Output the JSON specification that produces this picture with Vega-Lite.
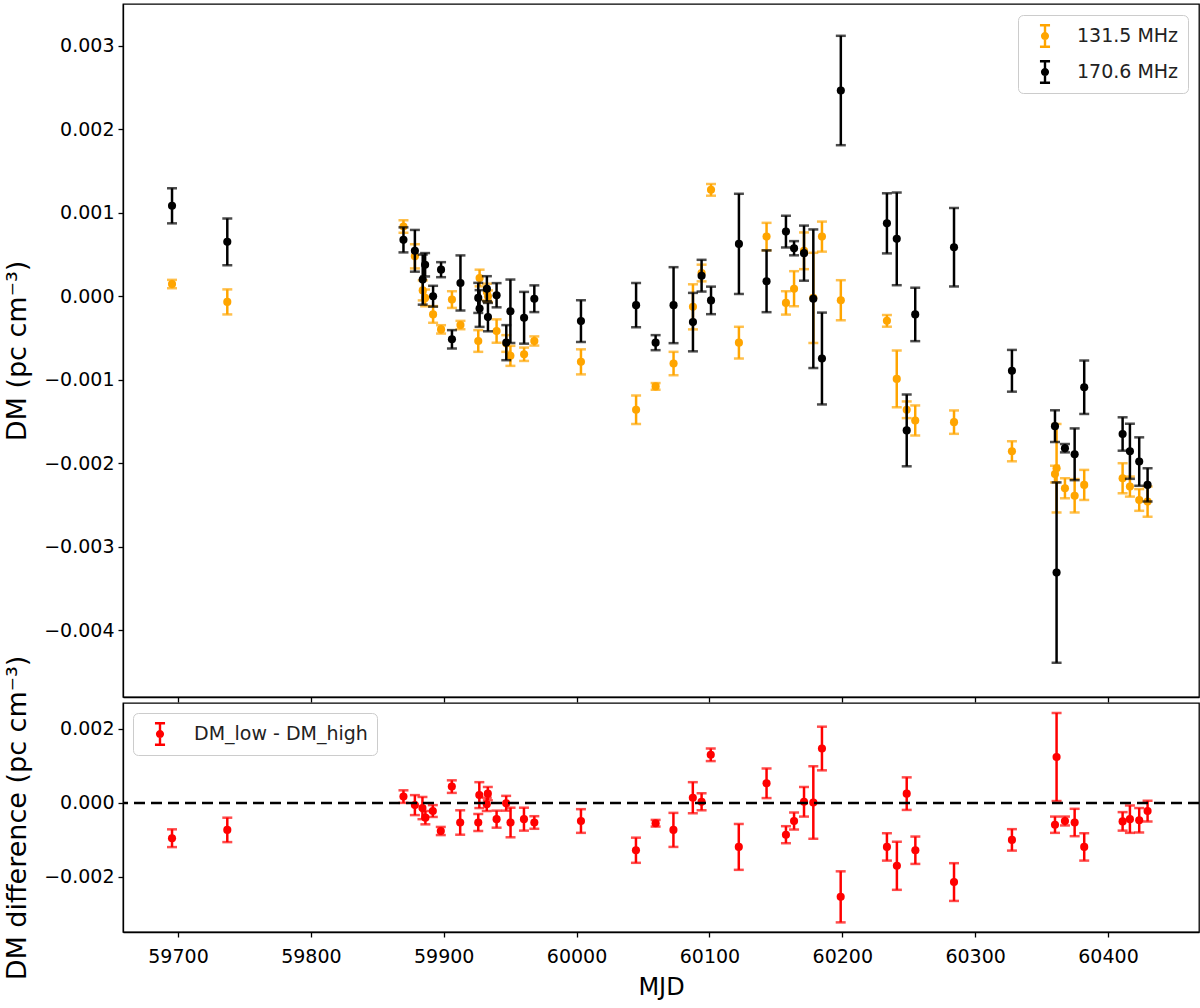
{
"$schema": "https://vega.github.io/schema/vega-lite/v6.json",
"background": "white",
"padding": {"left": 3, "top": 3, "right": 1, "bottom": 2},
"spacing": 6,
"bounds": "flush",
"config": {
  "font": "DejaVu Sans",
  "view": {"stroke": "black", "strokeWidth": 1.3},
  "axis": {"domainColor": "black", "domainWidth": 1.3, "tickColor": "black", "tickWidth": 1.3, "tickSize": 5, "labelColor": "black", "titleColor": "black", "labelFont": "DejaVu Sans", "titleFont": "DejaVu Sans", "labelFontSize": 19, "titleFontSize": 27, "titleFontWeight": "normal", "grid": false, "labelPadding": 4, "titlePadding": 12}
},
"resolve": {"scale": {"color": "independent"}, "legend": {"color": "independent"}},
"datasets": {
  "bands": [
    {"mjd": 59695.5, "band": "131.5 MHz", "dm": 0.000146, "err": 0.00005},
    {"mjd": 59737.1, "band": "131.5 MHz", "dm": -0.000068, "err": 0.00015},
    {"mjd": 59869.7, "band": "131.5 MHz", "dm": 0.000835, "err": 0.000075},
    {"mjd": 59878.3, "band": "131.5 MHz", "dm": 0.000478, "err": 0.000145},
    {"mjd": 59884.2, "band": "131.5 MHz", "dm": 0.00007, "err": 0.00012},
    {"mjd": 59886.0, "band": "131.5 MHz", "dm": -0.00002, "err": 0.0001},
    {"mjd": 59892.0, "band": "131.5 MHz", "dm": -0.000218, "err": 0.0001},
    {"mjd": 59898.0, "band": "131.5 MHz", "dm": -0.000397, "err": 0.00005},
    {"mjd": 59906.2, "band": "131.5 MHz", "dm": -0.00004, "err": 0.0001},
    {"mjd": 59912.6, "band": "131.5 MHz", "dm": -0.000345, "err": 0.00005},
    {"mjd": 59926.0, "band": "131.5 MHz", "dm": -0.000536, "err": 0.00013},
    {"mjd": 59927.0, "band": "131.5 MHz", "dm": 0.000218, "err": 0.0001},
    {"mjd": 59932.5, "band": "131.5 MHz", "dm": 0.00005, "err": 0.0001},
    {"mjd": 59933.3, "band": "131.5 MHz", "dm": 0.0, "err": 0.00007},
    {"mjd": 59939.8, "band": "131.5 MHz", "dm": -0.000417, "err": 0.00014},
    {"mjd": 59947.1, "band": "131.5 MHz", "dm": -0.000566, "err": 0.0001},
    {"mjd": 59950.2, "band": "131.5 MHz", "dm": -0.000714, "err": 0.00012},
    {"mjd": 59960.5, "band": "131.5 MHz", "dm": -0.000695, "err": 0.00008},
    {"mjd": 59968.2, "band": "131.5 MHz", "dm": -0.000536, "err": 0.000055},
    {"mjd": 60003.3, "band": "131.5 MHz", "dm": -0.000786, "err": 0.00015},
    {"mjd": 60044.8, "band": "131.5 MHz", "dm": -0.00136, "err": 0.00017},
    {"mjd": 60059.5, "band": "131.5 MHz", "dm": -0.00108, "err": 0.00004},
    {"mjd": 60073.0, "band": "131.5 MHz", "dm": -0.000806, "err": 0.00014},
    {"mjd": 60087.6, "band": "131.5 MHz", "dm": -0.000127, "err": 0.00027},
    {"mjd": 60094.1, "band": "131.5 MHz", "dm": 0.000278, "err": 0.0001},
    {"mjd": 60101.2, "band": "131.5 MHz", "dm": 0.001274, "err": 0.00007},
    {"mjd": 60122.2, "band": "131.5 MHz", "dm": -0.000556, "err": 0.00019},
    {"mjd": 60143.0, "band": "131.5 MHz", "dm": 0.000714, "err": 0.000165},
    {"mjd": 60157.6, "band": "131.5 MHz", "dm": -0.00008, "err": 0.00014},
    {"mjd": 60163.7, "band": "131.5 MHz", "dm": 0.00009, "err": 0.00021},
    {"mjd": 60171.2, "band": "131.5 MHz", "dm": 0.000544, "err": 0.00022},
    {"mjd": 60178.2, "band": "131.5 MHz", "dm": -0.00002, "err": 0.00054},
    {"mjd": 60184.7, "band": "131.5 MHz", "dm": 0.000714, "err": 0.00018},
    {"mjd": 60198.9, "band": "131.5 MHz", "dm": -0.000048, "err": 0.00024},
    {"mjd": 60233.6, "band": "131.5 MHz", "dm": -0.000295, "err": 0.00007},
    {"mjd": 60241.0, "band": "131.5 MHz", "dm": -0.00099, "err": 0.00034},
    {"mjd": 60248.5, "band": "131.5 MHz", "dm": -0.00136, "err": 0.0001},
    {"mjd": 60254.9, "band": "131.5 MHz", "dm": -0.001488, "err": 0.00018},
    {"mjd": 60284.1, "band": "131.5 MHz", "dm": -0.001508, "err": 0.00014},
    {"mjd": 60327.7, "band": "131.5 MHz", "dm": -0.001857, "err": 0.00012},
    {"mjd": 60360.1, "band": "131.5 MHz", "dm": -0.00213, "err": 0.0001},
    {"mjd": 60361.3, "band": "131.5 MHz", "dm": -0.00206, "err": 0.00053},
    {"mjd": 60367.6, "band": "131.5 MHz", "dm": -0.0023, "err": 0.00012},
    {"mjd": 60374.9, "band": "131.5 MHz", "dm": -0.00239, "err": 0.0002},
    {"mjd": 60382.1, "band": "131.5 MHz", "dm": -0.00226, "err": 0.00018},
    {"mjd": 60411.0, "band": "131.5 MHz", "dm": -0.00218, "err": 0.00018},
    {"mjd": 60416.5, "band": "131.5 MHz", "dm": -0.00228, "err": 0.00012},
    {"mjd": 60423.5, "band": "131.5 MHz", "dm": -0.00244, "err": 0.00013},
    {"mjd": 60429.8, "band": "131.5 MHz", "dm": -0.00246, "err": 0.00018},
    {"mjd": 59695.5, "band": "170.6 MHz", "dm": 0.001083, "err": 0.00021},
    {"mjd": 59737.1, "band": "170.6 MHz", "dm": 0.000651, "err": 0.00028},
    {"mjd": 59869.7, "band": "170.6 MHz", "dm": 0.000675, "err": 0.00015},
    {"mjd": 59878.3, "band": "170.6 MHz", "dm": 0.000544, "err": 0.00025},
    {"mjd": 59884.2, "band": "170.6 MHz", "dm": 0.000199, "err": 0.0003},
    {"mjd": 59886.0, "band": "170.6 MHz", "dm": 0.000377, "err": 0.00014},
    {"mjd": 59892.0, "band": "170.6 MHz", "dm": 0.0, "err": 0.000125},
    {"mjd": 59898.0, "band": "170.6 MHz", "dm": 0.000318, "err": 0.00009},
    {"mjd": 59906.2, "band": "170.6 MHz", "dm": -0.000516, "err": 0.00011},
    {"mjd": 59912.6, "band": "170.6 MHz", "dm": 0.000159, "err": 0.00033},
    {"mjd": 59926.0, "band": "170.6 MHz", "dm": -0.00002, "err": 0.00018},
    {"mjd": 59927.0, "band": "170.6 MHz", "dm": -0.000147, "err": 0.00022},
    {"mjd": 59932.5, "band": "170.6 MHz", "dm": 0.00009, "err": 0.00015},
    {"mjd": 59933.3, "band": "170.6 MHz", "dm": -0.00025, "err": 0.00017},
    {"mjd": 59939.8, "band": "170.6 MHz", "dm": 0.000012, "err": 0.000145},
    {"mjd": 59947.1, "band": "170.6 MHz", "dm": -0.000556, "err": 0.00021},
    {"mjd": 59950.2, "band": "170.6 MHz", "dm": -0.00018, "err": 0.00038},
    {"mjd": 59960.5, "band": "170.6 MHz", "dm": -0.000258, "err": 0.00031},
    {"mjd": 59968.2, "band": "170.6 MHz", "dm": -0.00003, "err": 0.00016},
    {"mjd": 60003.3, "band": "170.6 MHz", "dm": -0.000298, "err": 0.00025},
    {"mjd": 60044.8, "band": "170.6 MHz", "dm": -0.000107, "err": 0.000265},
    {"mjd": 60059.5, "band": "170.6 MHz", "dm": -0.000556, "err": 0.00009},
    {"mjd": 60073.0, "band": "170.6 MHz", "dm": -0.000107, "err": 0.000455},
    {"mjd": 60087.6, "band": "170.6 MHz", "dm": -0.00031, "err": 0.00035},
    {"mjd": 60094.1, "band": "170.6 MHz", "dm": 0.000246, "err": 0.00019},
    {"mjd": 60101.2, "band": "170.6 MHz", "dm": -0.00005, "err": 0.000165},
    {"mjd": 60122.2, "band": "170.6 MHz", "dm": 0.000627, "err": 0.0006},
    {"mjd": 60143.0, "band": "170.6 MHz", "dm": 0.000179, "err": 0.00037},
    {"mjd": 60157.6, "band": "170.6 MHz", "dm": 0.000774, "err": 0.00019},
    {"mjd": 60163.7, "band": "170.6 MHz", "dm": 0.000575, "err": 0.000085},
    {"mjd": 60171.2, "band": "170.6 MHz", "dm": 0.000516, "err": 0.00033},
    {"mjd": 60178.2, "band": "170.6 MHz", "dm": -0.00003, "err": 0.00083},
    {"mjd": 60184.7, "band": "170.6 MHz", "dm": -0.000746, "err": 0.00055},
    {"mjd": 60198.9, "band": "170.6 MHz", "dm": 0.002464, "err": 0.000655},
    {"mjd": 60233.6, "band": "170.6 MHz", "dm": 0.000873, "err": 0.00036},
    {"mjd": 60241.0, "band": "170.6 MHz", "dm": 0.000687, "err": 0.000555},
    {"mjd": 60248.5, "band": "170.6 MHz", "dm": -0.001607, "err": 0.00043},
    {"mjd": 60254.9, "band": "170.6 MHz", "dm": -0.000218, "err": 0.00032},
    {"mjd": 60284.1, "band": "170.6 MHz", "dm": 0.000587, "err": 0.00047},
    {"mjd": 60327.7, "band": "170.6 MHz", "dm": -0.000893, "err": 0.00025},
    {"mjd": 60360.1, "band": "170.6 MHz", "dm": -0.001556, "err": 0.00019},
    {"mjd": 60361.3, "band": "170.6 MHz", "dm": -0.00331, "err": 0.00108},
    {"mjd": 60367.6, "band": "170.6 MHz", "dm": -0.00182, "err": 0.00005},
    {"mjd": 60374.9, "band": "170.6 MHz", "dm": -0.001893, "err": 0.00031},
    {"mjd": 60382.1, "band": "170.6 MHz", "dm": -0.00109, "err": 0.00032},
    {"mjd": 60411.0, "band": "170.6 MHz", "dm": -0.00165, "err": 0.0002},
    {"mjd": 60416.5, "band": "170.6 MHz", "dm": -0.001857, "err": 0.00033},
    {"mjd": 60423.5, "band": "170.6 MHz", "dm": -0.00198, "err": 0.00029},
    {"mjd": 60429.8, "band": "170.6 MHz", "dm": -0.00226, "err": 0.0002}
  ],
  "diff": [
    {"mjd": 59695.5, "series": "DM_low - DM_high", "d": -0.000955, "err": 0.00024},
    {"mjd": 59737.1, "series": "DM_low - DM_high", "d": -0.00073, "err": 0.00033},
    {"mjd": 59869.7, "series": "DM_low - DM_high", "d": 0.00017, "err": 0.00017},
    {"mjd": 59878.3, "series": "DM_low - DM_high", "d": -0.00006, "err": 0.00027},
    {"mjd": 59884.0, "series": "DM_low - DM_high", "d": -0.00014, "err": 0.0003},
    {"mjd": 59886.2, "series": "DM_low - DM_high", "d": -0.0004, "err": 0.00018},
    {"mjd": 59891.8, "series": "DM_low - DM_high", "d": -0.00022, "err": 0.00016},
    {"mjd": 59897.8, "series": "DM_low - DM_high", "d": -0.00076, "err": 0.00011},
    {"mjd": 59906.1, "series": "DM_low - DM_high", "d": 0.00044, "err": 0.00017},
    {"mjd": 59912.4, "series": "DM_low - DM_high", "d": -0.00053, "err": 0.00033},
    {"mjd": 59926.0, "series": "DM_low - DM_high", "d": -0.00053, "err": 0.00023},
    {"mjd": 59926.8, "series": "DM_low - DM_high", "d": 0.00021, "err": 0.00035},
    {"mjd": 59932.4, "series": "DM_low - DM_high", "d": -0.00004, "err": 0.00018},
    {"mjd": 59933.2, "series": "DM_low - DM_high", "d": 0.00025, "err": 0.00018},
    {"mjd": 59939.8, "series": "DM_low - DM_high", "d": -0.00044, "err": 0.00023},
    {"mjd": 59947.0, "series": "DM_low - DM_high", "d": -0.00001, "err": 0.0002},
    {"mjd": 59950.3, "series": "DM_low - DM_high", "d": -0.00053, "err": 0.0004},
    {"mjd": 59960.4, "series": "DM_low - DM_high", "d": -0.00044, "err": 0.00031},
    {"mjd": 59968.2, "series": "DM_low - DM_high", "d": -0.00053, "err": 0.00017},
    {"mjd": 60003.3, "series": "DM_low - DM_high", "d": -0.00049, "err": 0.00032},
    {"mjd": 60044.7, "series": "DM_low - DM_high", "d": -0.00128, "err": 0.00034},
    {"mjd": 60059.5, "series": "DM_low - DM_high", "d": -0.00055, "err": 0.00009},
    {"mjd": 60072.9, "series": "DM_low - DM_high", "d": -0.00073, "err": 0.00046},
    {"mjd": 60087.5, "series": "DM_low - DM_high", "d": 0.00014, "err": 0.00042},
    {"mjd": 60094.1, "series": "DM_low - DM_high", "d": 0.00003, "err": 0.00023},
    {"mjd": 60101.0, "series": "DM_low - DM_high", "d": 0.0013, "err": 0.00017},
    {"mjd": 60122.1, "series": "DM_low - DM_high", "d": -0.00119, "err": 0.00062},
    {"mjd": 60143.0, "series": "DM_low - DM_high", "d": 0.00053, "err": 0.0004},
    {"mjd": 60157.6, "series": "DM_low - DM_high", "d": -0.00086, "err": 0.00023},
    {"mjd": 60163.7, "series": "DM_low - DM_high", "d": -0.00049, "err": 0.00023},
    {"mjd": 60171.2, "series": "DM_low - DM_high", "d": 0.00003, "err": 0.0004},
    {"mjd": 60178.2, "series": "DM_low - DM_high", "d": 0.00001, "err": 0.00098},
    {"mjd": 60184.7, "series": "DM_low - DM_high", "d": 0.00147, "err": 0.00059},
    {"mjd": 60198.8, "series": "DM_low - DM_high", "d": -0.00254, "err": 0.00069},
    {"mjd": 60233.6, "series": "DM_low - DM_high", "d": -0.00119, "err": 0.00037},
    {"mjd": 60241.1, "series": "DM_low - DM_high", "d": -0.0017, "err": 0.00065},
    {"mjd": 60248.5, "series": "DM_low - DM_high", "d": 0.00025, "err": 0.00044},
    {"mjd": 60255.0, "series": "DM_low - DM_high", "d": -0.00128, "err": 0.00037},
    {"mjd": 60284.1, "series": "DM_low - DM_high", "d": -0.00214, "err": 0.00051},
    {"mjd": 60327.7, "series": "DM_low - DM_high", "d": -0.001, "err": 0.00029},
    {"mjd": 60360.1, "series": "DM_low - DM_high", "d": -0.00059, "err": 0.00022},
    {"mjd": 60361.3, "series": "DM_low - DM_high", "d": 0.00124, "err": 0.00119},
    {"mjd": 60367.6, "series": "DM_low - DM_high", "d": -0.00049, "err": 0.00012},
    {"mjd": 60374.9, "series": "DM_low - DM_high", "d": -0.00053, "err": 0.00037},
    {"mjd": 60382.1, "series": "DM_low - DM_high", "d": -0.00119, "err": 0.00037},
    {"mjd": 60411.0, "series": "DM_low - DM_high", "d": -0.0005, "err": 0.00025},
    {"mjd": 60416.5, "series": "DM_low - DM_high", "d": -0.00044, "err": 0.00037},
    {"mjd": 60423.5, "series": "DM_low - DM_high", "d": -0.00047, "err": 0.00033},
    {"mjd": 60429.8, "series": "DM_low - DM_high", "d": -0.00022, "err": 0.00028}
  ]
},
"vconcat": [
  {
    "width": 1076, "height": 693,
    "data": {"name": "bands"},
    "encoding": {
      "x": {"field": "mjd", "type": "quantitative", "scale": {"domain": [59658.6, 60468.5], "nice": false, "zero": false}, "axis": {"values": [59700, 59800, 59900, 60000, 60100, 60200, 60300, 60400], "labels": false, "title": null}},
      "y": {"field": "dm", "type": "quantitative", "scale": {"domain": [-0.0048, 0.0035], "nice": false, "zero": false}, "axis": {"values": [-0.004, -0.003, -0.002, -0.001, 0, 0.001, 0.002, 0.003], "format": ".3f", "title": "DM (pc cm⁻³)"}}
    },
    "layer": [
      {
        "transform": [{"filter": {"field": "band", "equal": "131.5 MHz"}}],
        "mark": {"type": "errorbar", "color": "#FFA500", "thickness": 2.5, "ticks": {"size": 10, "thickness": 2.5}},
        "encoding": {"yError": {"field": "err"}}
      },
      {
        "transform": [{"filter": {"field": "band", "equal": "131.5 MHz"}}],
        "mark": {"type": "point", "filled": true, "size": 66, "opacity": 1},
        "encoding": {
          "color": {"field": "band", "type": "nominal", "scale": {"domain": ["131.5 MHz", "170.6 MHz"], "range": ["#FFA500", "#000000"]},
            "legend": {"title": null, "orient": "top-right", "offset": 11, "padding": 9, "strokeColor": "#cccccc", "cornerRadius": 5, "fillColor": "white", "labelFontSize": 19, "labelFont": "DejaVu Sans", "labelColor": "#222222", "labelLimit": 0, "symbolType": "M-0.1,-1H0.1V1H-0.1Z M-0.42,-1H0.42V-0.8H-0.42Z M-0.42,0.8H0.42V1H-0.42Z M0.34,0A0.34,0.34,0,1,1,-0.34,0A0.34,0.34,0,1,1,0.34,0Z", "symbolSize": 576, "symbolStrokeWidth": 0, "symbolOpacity": 1, "symbolOffset": 6, "rowPadding": 12, "labelOffset": 20}}
        }
      },
      {
        "transform": [{"filter": {"field": "band", "equal": "170.6 MHz"}}],
        "mark": {"type": "errorbar", "color": "#000000", "thickness": 2.5, "ticks": {"size": 10, "thickness": 2.5}},
        "encoding": {"yError": {"field": "err"}}
      },
      {
        "transform": [{"filter": {"field": "band", "equal": "170.6 MHz"}}],
        "mark": {"type": "point", "filled": true, "size": 66, "opacity": 1},
        "encoding": {"color": {"field": "band", "type": "nominal"}}
      }
    ]
  },
  {
    "width": 1076, "height": 229,
    "layer": [
      {
        "data": {"name": "diff"},
        "mark": {"type": "errorbar", "color": "#FF0000", "thickness": 2.5, "ticks": {"size": 10, "thickness": 2.5}},
        "encoding": {
          "x": {"field": "mjd", "type": "quantitative", "scale": {"domain": [59658.6, 60468.5], "nice": false, "zero": false}, "axis": {"values": [59700, 59800, 59900, 60000, 60100, 60200, 60300, 60400], "format": "d", "title": "MJD", "titleFontSize": 24, "labelPadding": 10, "titlePadding": 9}},
          "y": {"field": "d", "type": "quantitative", "scale": {"domain": [-0.00349, 0.0027], "nice": false, "zero": false}, "axis": {"values": [-0.002, 0, 0.002], "format": ".3f", "title": "DM difference (pc cm⁻³)"}},
          "yError": {"field": "err"}
        }
      },
      {
        "data": {"name": "diff"},
        "mark": {"type": "point", "filled": true, "size": 66, "opacity": 1},
        "encoding": {
          "x": {"field": "mjd", "type": "quantitative", "axis": {"values": [59700, 59800, 59900, 60000, 60100, 60200, 60300, 60400], "format": "d", "title": "MJD", "titleFontSize": 24, "labelPadding": 10, "titlePadding": 9}},
          "y": {"field": "d", "type": "quantitative", "axis": {"values": [-0.002, 0, 0.002], "format": ".3f", "title": "DM difference (pc cm⁻³)"}},
          "color": {"field": "series", "type": "nominal", "scale": {"domain": ["DM_low - DM_high"], "range": ["#FF0000"]},
            "legend": {"title": null, "orient": "top-left", "offset": 10, "padding": 9, "strokeColor": "#cccccc", "cornerRadius": 5, "fillColor": "white", "labelFontSize": 19, "labelFont": "DejaVu Sans", "labelColor": "#222222", "labelLimit": 0, "symbolType": "M-0.1,-1H0.1V1H-0.1Z M-0.42,-1H0.42V-0.8H-0.42Z M-0.42,0.8H0.42V1H-0.42Z M0.34,0A0.34,0.34,0,1,1,-0.34,0A0.34,0.34,0,1,1,0.34,0Z", "symbolSize": 576, "symbolStrokeWidth": 0, "symbolOpacity": 1, "symbolOffset": 6, "labelOffset": 22}}
        }
      },
      {
        "data": {"values": [{"zero": 0}]},
        "mark": {"type": "rule", "color": "black", "strokeWidth": 2.5, "strokeDash": [11, 6]},
        "encoding": {"y": {"field": "zero", "type": "quantitative", "axis": {"values": [-0.002, 0, 0.002], "format": ".3f", "title": "DM difference (pc cm⁻³)"}}}
      }
    ]
  }
]
}
